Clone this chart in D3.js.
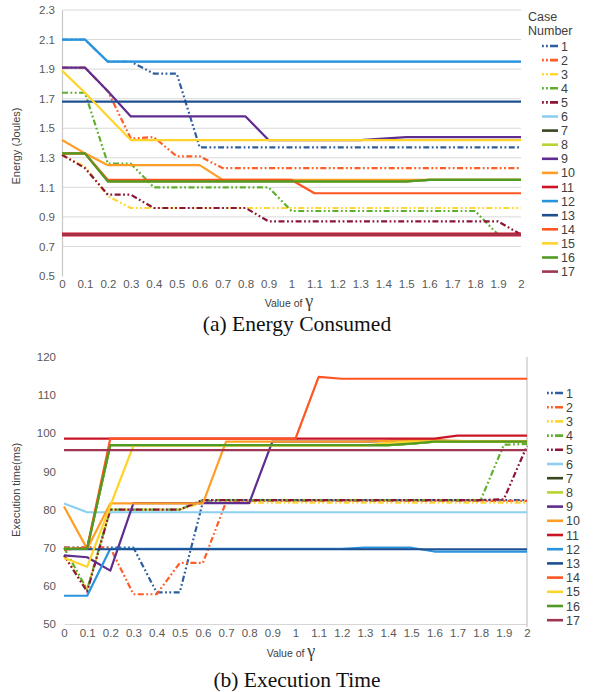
<!DOCTYPE html>
<html><head><meta charset="utf-8">
<script src="https://cdn.jsdelivr.net/npm/d3@7"></script>
<style>
html,body{margin:0;padding:0;background:#fff;}
svg{display:block;font-family:"Liberation Sans",Arial,sans-serif;}
</style></head>
<body><svg id="chart" width="597" height="692"></svg>
<script>
// ---------- DATA ----------
const gammaValues = [0,0.1,0.2,0.3,0.4,0.5,0.6,0.7,0.8,0.9,1,1.1,1.2,1.3,1.4,1.5,1.6,1.7,1.8,1.9,2];
const gammaTickLabels = ["0","0.1","0.2","0.3","0.4","0.5","0.6","0.7","0.8","0.9","1","1.1","1.2","1.3","1.4","1.5","1.6","1.7","1.8","1.9","2"];
const caseNumbers = [1,2,3,4,5,6,7,8,9,10,11,12,13,14,15,16,17];
const caseColors = ["#2F5E9E","#FF5C26","#FFD633","#5FAF2F","#8C1537","#8DCFF2","#39461E","#B8D430","#5F2C8F","#FF9D26","#CC1426","#2A93DE","#1D4F91","#FF5522","#FFD42A","#4F9B23","#9E3551"];
const caseDashed = [true,true,true,true,true,false,false,false,false,false,false,false,false,false,false,false,false];

const energyTicks = [0.5,0.7,0.9,1.1,1.3,1.5,1.7,1.9,2.1,2.3];
const timeTicks = [50,60,70,80,90,100,110,120];

// Energy consumed (Joules), one array per case
const energyCase1  = [2.10,2.10,1.95,1.95,1.87,1.87,1.37,1.37,1.37,1.37,1.37,1.37,1.37,1.37,1.37,1.37,1.37,1.37,1.37,1.37,1.37];
const energyCase2  = [1.91,1.91,1.75,1.43,1.44,1.31,1.31,1.23,1.23,1.23,1.23,1.23,1.23,1.23,1.23,1.23,1.23,1.23,1.23,1.23,1.23];
const energyCase3  = [1.32,1.24,1.04,0.96,0.96,0.96,0.96,0.96,0.96,0.96,0.96,0.96,0.96,0.96,0.96,0.96,0.96,0.96,0.96,0.96,0.96];
const energyCase4  = [1.74,1.74,1.26,1.26,1.10,1.10,1.10,1.10,1.10,1.10,0.94,0.94,0.94,0.94,0.94,0.94,0.94,0.94,0.94,0.78,0.78];
const energyCase5  = [1.32,1.23,1.05,1.05,0.96,0.96,0.96,0.96,0.96,0.87,0.87,0.87,0.87,0.87,0.87,0.87,0.87,0.87,0.87,0.87,0.78];
const energyCase6  = [2.10,2.10,1.95,1.95,1.95,1.95,1.95,1.95,1.95,1.95,1.95,1.95,1.95,1.95,1.95,1.95,1.95,1.95,1.95,1.95,1.95];
const energyCase7  = [1.33,1.33,1.14,1.14,1.14,1.14,1.14,1.14,1.14,1.14,1.14,1.14,1.14,1.14,1.14,1.14,1.15,1.15,1.15,1.15,1.15];
const energyCase8  = [1.33,1.33,1.14,1.14,1.14,1.14,1.14,1.14,1.14,1.14,1.14,1.14,1.14,1.14,1.14,1.14,1.15,1.15,1.15,1.15,1.15];
const energyCase9  = [1.91,1.91,1.75,1.58,1.58,1.58,1.58,1.58,1.58,1.42,1.42,1.42,1.42,1.42,1.43,1.44,1.44,1.44,1.44,1.44,1.44];
const energyCase10 = [1.42,1.33,1.25,1.25,1.25,1.25,1.25,1.15,1.15,1.15,1.15,1.15,1.15,1.15,1.15,1.15,1.15,1.15,1.15,1.15,1.15];
const energyCase11 = [0.78,0.78,0.78,0.78,0.78,0.78,0.78,0.78,0.78,0.78,0.78,0.78,0.78,0.78,0.78,0.78,0.78,0.78,0.78,0.78,0.78];
const energyCase12 = [2.10,2.10,1.95,1.95,1.95,1.95,1.95,1.95,1.95,1.95,1.95,1.95,1.95,1.95,1.95,1.95,1.95,1.95,1.95,1.95,1.95];
const energyCase13 = [1.68,1.68,1.68,1.68,1.68,1.68,1.68,1.68,1.68,1.68,1.68,1.68,1.68,1.68,1.68,1.68,1.68,1.68,1.68,1.68,1.68];
const energyCase14 = [1.33,1.33,1.15,1.15,1.15,1.15,1.15,1.15,1.15,1.15,1.15,1.06,1.06,1.06,1.06,1.06,1.06,1.06,1.06,1.06,1.06];
const energyCase15 = [1.89,1.74,1.58,1.42,1.42,1.42,1.42,1.42,1.42,1.42,1.42,1.42,1.42,1.42,1.42,1.42,1.42,1.42,1.42,1.42,1.42];
const energyCase16 = [1.33,1.33,1.14,1.14,1.14,1.14,1.14,1.14,1.14,1.14,1.14,1.14,1.14,1.14,1.14,1.14,1.15,1.15,1.15,1.15,1.15];
const energyCase17 = [0.78,0.78,0.78,0.78,0.78,0.78,0.78,0.78,0.78,0.78,0.78,0.78,0.78,0.78,0.78,0.78,0.78,0.78,0.78,0.78,0.78];

// Execution time (ms), one array per case
const timeCase1  = [70,70,70,70,58.3,58.3,82,82.5,82.5,82.5,82.5,82.5,82.5,82.5,82.5,82.5,82.5,82.5,82.5,82.5,82.5];
const timeCase2  = [70,70,70,57.8,57.8,66,66,82,82.3,82.3,82.3,82.3,82.3,82.3,82.3,82.3,82.3,82.3,82.3,82.3,82.3];
const timeCase3  = [68,59,80,80,80,80,81.8,81.8,81.8,81.8,81.8,81.8,81.8,81.8,81.8,81.8,81.8,81.8,81.8,81.8,81.8];
const timeCase4  = [70,59,80,80,80,80,82.5,82.5,82.5,82.5,82.5,82.5,82.5,82.5,82.5,82.5,82.5,82.5,82.5,97,97.2];
const timeCase5  = [68,58.5,80,80,80,80,82.5,82.5,82.5,82.5,82.5,82.5,82.5,82.5,82.5,82.5,82.5,82.5,82.5,82.7,96.7];
const timeCase6  = [81.6,79.3,79.3,79.3,79.3,79.3,79.3,79.3,79.3,79.3,79.3,79.3,79.3,79.3,79.3,79.3,79.3,79.3,79.3,79.3,79.3];
const timeCase7  = [69.7,69.7,96.9,96.9,96.9,96.9,96.9,96.9,96.9,96.9,96.9,96.9,96.9,96.9,96.9,97.3,97.8,97.8,97.8,97.8,97.8];
const timeCase8  = [69.7,69.7,96.9,96.9,96.9,96.9,96.9,96.9,96.9,96.9,96.9,96.9,96.9,96.9,96.9,97.3,97.8,97.8,97.8,97.8,97.8];
const timeCase9  = [68,67.5,64,81.7,81.7,81.7,81.7,81.7,81.7,97.8,97.8,97.8,97.8,97.8,98,98.2,98.2,97.8,97.8,97.8,97.8];
const timeCase10 = [80.8,69.7,81.6,81.6,81.6,81.6,81.6,97.8,97.8,97.8,97.8,97.8,97.8,97.8,98,98.3,98.2,98,97.8,97.8,97.8];
const timeCase11 = [98.6,98.6,98.6,98.6,98.6,98.6,98.6,98.6,98.6,98.6,98.6,98.6,98.6,98.6,98.6,98.6,98.6,99.4,99.4,99.4,99.4];
const timeCase12 = [57.4,57.4,69.7,69.7,69.7,69.7,69.7,69.7,69.7,69.7,69.7,69.7,69.7,70,70,70,69,69,69,69,69];
const timeCase13 = [69.6,69.6,69.6,69.6,69.6,69.6,69.6,69.6,69.6,69.6,69.6,69.6,69.6,69.6,69.6,69.6,69.6,69.6,69.6,69.6,69.6];
const timeCase14 = [69.5,70,98.6,98.6,98.6,98.6,98.6,98.6,98.6,98.6,98.6,114.8,114.3,114.3,114.3,114.3,114.3,114.3,114.3,114.3,114.3];
const timeCase15 = [67.3,65,81,96.8,96.8,96.8,96.8,96.8,96.8,96.8,96.8,96.8,96.8,96.8,97.5,97.8,97.8,97.8,97.8,97.8,97.8];
const timeCase16 = [69.7,69.7,96.9,96.9,96.9,96.9,96.9,96.9,96.9,96.9,96.9,96.9,96.9,96.9,96.9,97.3,97.8,97.8,97.8,97.8,97.8];
const timeCase17 = [95.6,95.6,95.6,95.6,95.6,95.6,95.6,95.6,95.6,95.6,95.6,95.6,95.6,95.6,95.6,95.6,95.6,95.6,95.6,95.6,95.6];

const energySeries = [energyCase1,energyCase2,energyCase3,energyCase4,energyCase5,energyCase6,energyCase7,energyCase8,energyCase9,energyCase10,energyCase11,energyCase12,energyCase13,energyCase14,energyCase15,energyCase16,energyCase17];
const timeSeries = [timeCase1,timeCase2,timeCase3,timeCase4,timeCase5,timeCase6,timeCase7,timeCase8,timeCase9,timeCase10,timeCase11,timeCase12,timeCase13,timeCase14,timeCase15,timeCase16,timeCase17];

// ---------- DRAW ----------
const svg = d3.select("#chart");
const DASH = "6,2.5,1.8,2.5,1.8,2.5";
const tickColor = "#595959";

function drawPanel(opt) {
  const g = svg.append("g");
  const x = d3.scaleLinear().domain([0,2]).range([opt.x0, opt.x1]);
  const y = d3.scaleLinear().domain(opt.yDomain).range([opt.y1, opt.y0]);

  if (opt.grid) {
    g.append("g").selectAll("line").data(opt.yTicks.filter(v => v !== opt.yDomain[0]))
      .join("line")
      .attr("x1", opt.x0).attr("x2", opt.x1)
      .attr("y1", d => y(d)).attr("y2", d => y(d))
      .attr("stroke", "#d9d9d9").attr("stroke-width", 1);
  }

  // y axis
  const ya = g.append("g").attr("transform", `translate(${opt.x0},0)`)
    .call(d3.axisLeft(y).tickValues(opt.yTicks).tickSize(0).tickPadding(opt.yPad).tickFormat(opt.yFormat));
  ya.select(".domain").attr("stroke", opt.leftAxis ? "#c8c8c8" : "none").attr("stroke-width", 1.2);
  ya.selectAll("text").attr("fill", tickColor).style("font-size", "11.5px").style("font-family", "'Liberation Sans',Arial,sans-serif");

  // x axis
  const xa = g.append("g").attr("transform", `translate(0,${opt.y1})`)
    .call(d3.axisBottom(x).tickValues(gammaValues).tickSize(0).tickPadding(opt.xPad).tickFormat((d,i) => gammaTickLabels[i]));
  xa.select(".domain").attr("stroke", opt.bottomAxis ? "#d6d6d6" : "none").attr("stroke-width", 1.2);
  xa.selectAll("text").attr("fill", tickColor).style("font-size", "11.5px").style("font-family", "'Liberation Sans',Arial,sans-serif");

  if (opt.rightLine) {
    g.append("line").attr("x1", opt.x1).attr("x2", opt.x1).attr("y1", opt.y0).attr("y2", opt.y1 + 3)
      .attr("stroke", "#d0d0d0").attr("stroke-width", 1.5);
  }

  const line = d3.line().x((d,i) => x(gammaValues[i])).y(d => y(d));
  g.append("g").selectAll("path").data(opt.series).join("path")
    .attr("d", d => line(d))
    .attr("fill", "none")
    .attr("stroke", (d,i) => caseColors[i])
    .attr("stroke-width", (d,i) => opt.widths(i))
    .attr("stroke-dasharray", (d,i) => caseDashed[i] ? DASH : null)
    .attr("stroke-linejoin", "round");

  // axis titles
  const xt = g.append("text").attr("x", opt.xTitleX).attr("y", opt.xTitleY)
    .attr("text-anchor", "middle").attr("fill", "#404040").style("font-size", "10.5px");
  xt.append("tspan").text("Value of ");
  xt.append("tspan").text("γ").style("font-size", "18px").style("font-family", "'Liberation Serif',serif");

  g.append("text").attr("transform", `translate(${opt.yTitleX},${opt.yTitleY}) rotate(-90)`)
    .attr("text-anchor", "middle").attr("fill", "#404040").style("font-size", "11px")
    .text(opt.yTitle);

  // legend
  const lg = g.append("g");
  if (opt.legendTitle) {
    lg.append("text").attr("x", opt.legX).attr("y", opt.legTitleY).attr("fill", "#404040")
      .style("font-size", "12.5px").text("Case");
    lg.append("text").attr("x", opt.legX).attr("y", opt.legTitleY + 14).attr("fill", "#404040")
      .style("font-size", "12.5px").text("Number");
  }
  const items = lg.selectAll("g.item").data(caseNumbers).join("g")
    .attr("transform", (d,i) => `translate(${opt.legLineX},${opt.legY0 + i*opt.legStep})`);
  items.append("line").attr("x1", 0).attr("x2", 16).attr("y1", 0).attr("y2", 0)
    .attr("stroke", (d,i) => caseColors[i]).attr("stroke-width", 2.6)
    .attr("stroke-dasharray", (d,i) => caseDashed[i] ? "1.8,2.2,1.8,2.2,8,0" : null);
  items.append("text").attr("x", 19).attr("y", 4.5).attr("fill", "#404040")
    .style("font-size", "12.5px").text(d => d);

  svg.append("text").attr("x", opt.capX).attr("y", opt.capY).attr("text-anchor", "middle")
    .attr("fill", "#111").style("font-family", "'Liberation Serif','Times New Roman',serif")
    .style("font-size", opt.capSize).text(opt.caption);
}

drawPanel({
  x0: 62, x1: 521, y0: 10, y1: 276,
  yDomain: [0.5, 2.3], yTicks: energyTicks, yFormat: d3.format(".1f"),
  yPad: 7, xPad: 4, grid: true, leftAxis: true, bottomAxis: false, rightLine: false,
  series: energySeries,
  widths: i => (i === 10 ? 4 : 2.2),
  xTitleX: 289, xTitleY: 307, yTitleX: 20, yTitleY: 146, yTitle: "Energy (Joules)",
  legendTitle: true, legX: 528, legTitleY: 21, legLineX: 542, legY0: 46, legStep: 14.1,
  caption: "(a) Energy Consumed", capX: 297, capY: 331, capSize: "21.5px"
});

drawPanel({
  x0: 64, x1: 527, y0: 357, y1: 624,
  yDomain: [50, 120], yTicks: timeTicks, yFormat: d3.format("d"),
  yPad: 8, xPad: 5, grid: false, leftAxis: false, bottomAxis: true, rightLine: true,
  series: timeSeries,
  widths: i => 2.2,
  xTitleX: 291, xTitleY: 657, yTitleX: 20, yTitleY: 490, yTitle: "Execution time(ms)",
  legendTitle: false, legLineX: 547, legY0: 393, legStep: 14.2,
  caption: "(b) Execution Time", capX: 297, capY: 687, capSize: "21.5px"
});
</script>
</body></html>
